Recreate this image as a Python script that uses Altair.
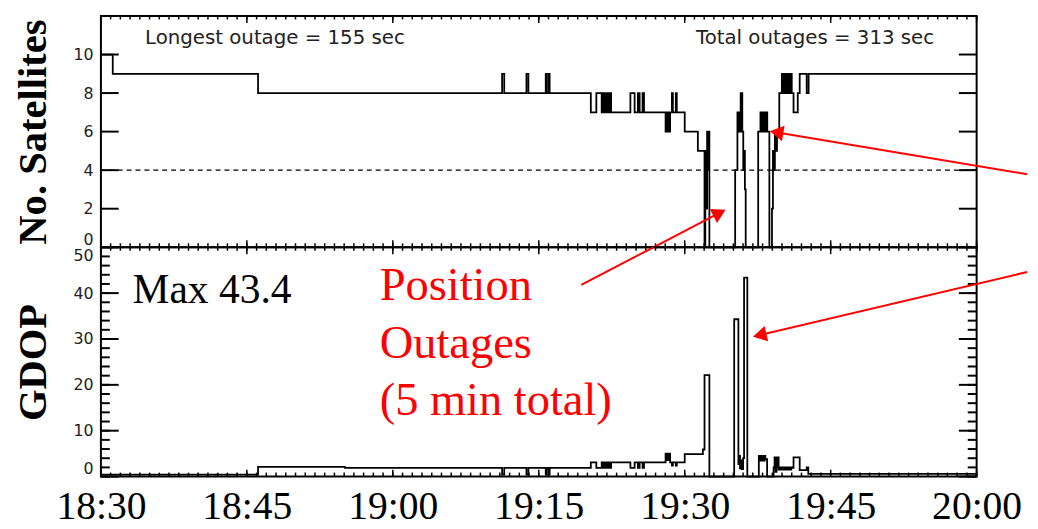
import altair as alt
import pandas as pd

# ---------------- data ----------------
# (clock time, number of satellites) - value holds until next time
sat_steps = [
    ("18:30:00", 10), ("18:31:13", 9), ("18:46:09", 8),
    ("19:11:14", 9), ("19:11:27", 8), ("19:13:44", 9), ("19:13:56", 8),
    ("19:15:43", 9), ("19:15:49", 8), ("19:16:01", 9), ("19:16:07", 8),
    ("19:20:21", 7), ("19:20:55", 8), ("19:21:28", 7), ("19:21:34", 8),
    ("19:21:40", 7), ("19:21:46", 8), ("19:21:52", 7), ("19:21:58", 8),
    ("19:22:04", 7), ("19:22:10", 8), ("19:22:16", 7), ("19:22:22", 8),
    ("19:22:26", 7), ("19:24:25", 8), ("19:24:51", 7), ("19:25:11", 8),
    ("19:25:22", 7), ("19:25:40", 8), ("19:25:49", 7), ("19:28:02", 6),
    ("19:28:08", 7), ("19:28:14", 6), ("19:28:20", 7), ("19:28:26", 6),
    ("19:28:30", 7), ("19:28:41", 8), ("19:28:47", 7), ("19:29:05", 8),
    ("19:29:11", 7), ("19:30:00", 6), ("19:31:21", 5), ("19:32:02", 0),
    ("19:32:07", 5), ("19:32:13", 2), ("19:32:18", 6), ("19:32:24", 4),
    ("19:32:28", 6), ("19:32:32", 0), ("19:35:11", 4), ("19:35:25", 7),
    ("19:35:31", 6), ("19:35:37", 7), ("19:35:41", 6), ("19:35:45", 8),
    ("19:35:55", 6), ("19:36:01", 4), ("19:36:06", 5), ("19:36:11", 3),
    ("19:36:16", 0), ("19:37:33", 6), ("19:37:47", 7), ("19:37:53", 6),
    ("19:37:59", 7), ("19:38:05", 6), ("19:38:11", 7), ("19:38:17", 6),
    ("19:38:23", 7), ("19:38:29", 6), ("19:38:42", 0), ("19:38:58", 2),
    ("19:39:04", 5), ("19:39:10", 4), ("19:39:16", 6), ("19:39:22", 5),
    ("19:39:29", 6), ("19:39:43", 8), ("19:39:59", 9), ("19:40:05", 8),
    ("19:40:11", 9), ("19:40:17", 8), ("19:40:23", 9), ("19:40:29", 8),
    ("19:40:35", 9), ("19:40:41", 8), ("19:40:47", 9), ("19:40:53", 8),
    ("19:40:57", 9), ("19:41:00", 8), ("19:41:11", 7), ("19:41:37", 8),
    ("19:41:49", 9), ("19:42:32", 8), ("19:42:44", 9), ("20:00:00", 9),
]

# (clock time, GDOP) - value holds until next time
gdop_steps = [
    ("18:30:00", 0.4), ("18:46:09", 2.1), ("18:55:05", 1.9),
    ("19:11:14", 0.4), ("19:11:27", 1.9), ("19:13:44", 0.4), ("19:13:56", 1.9),
    ("19:15:43", 0.4), ("19:15:49", 1.9), ("19:16:01", 0.4), ("19:16:07", 1.9),
    ("19:20:21", 3.1), ("19:20:55", 1.9), ("19:21:28", 3.1), ("19:21:34", 1.9),
    ("19:21:40", 3.1), ("19:21:46", 1.9), ("19:21:52", 3.1), ("19:21:58", 1.9),
    ("19:22:04", 3.1), ("19:22:10", 1.9), ("19:22:16", 3.1), ("19:22:22", 1.9),
    ("19:22:26", 3.1), ("19:24:25", 1.9), ("19:24:51", 3.1), ("19:25:11", 1.9),
    ("19:25:22", 3.1), ("19:25:40", 1.9), ("19:25:49", 3.1), ("19:28:02", 5.0),
    ("19:28:08", 3.6), ("19:28:14", 5.0), ("19:28:20", 3.6), ("19:28:26", 5.0),
    ("19:28:30", 3.1), ("19:28:41", 2.4), ("19:28:47", 3.1), ("19:29:05", 2.4),
    ("19:29:11", 3.1), ("19:30:00", 4.9), ("19:31:52", 5.9), ("19:32:02", 22.1),
    ("19:32:32", 0.0), ("19:35:05", 34.3), ("19:35:31", 2.7), ("19:35:35", 4.5),
    ("19:35:41", 1.8), ("19:35:45", 3.5), ("19:35:51", 1.6), ("19:36:00", 4.0),
    ("19:36:06", 43.4), ("19:36:26", 0.0), ("19:37:37", 4.5), ("19:37:43", 3.5),
    ("19:37:49", 4.5), ("19:37:55", 3.5), ("19:38:01", 4.5), ("19:38:07", 3.5),
    ("19:38:13", 4.5), ("19:38:17", 3.8), ("19:38:28", 0.0), ("19:39:08", 2.0),
    ("19:39:14", 4.2), ("19:39:20", 1.0), ("19:39:26", 4.2), ("19:39:32", 2.0),
    ("19:39:36", 4.2), ("19:39:39", 1.5), ("19:39:45", 2.0), ("19:39:51", 1.5),
    ("19:39:57", 2.0), ("19:40:03", 1.5), ("19:40:09", 2.0), ("19:40:15", 1.5),
    ("19:40:21", 2.0), ("19:40:27", 1.5), ("19:40:33", 2.0), ("19:40:39", 1.5),
    ("19:40:45", 2.0), ("19:40:51", 1.5), ("19:40:57", 2.0), ("19:41:00", 1.9),
    ("19:41:11", 4.2), ("19:41:49", 1.4), ("19:42:32", 2.0), ("19:42:42", 0.6),
    ("20:00:00", 0.6),
]

x_tick_labels = ["18:30", "18:45", "19:00", "19:15", "19:30", "19:45", "20:00"]
sat_tick_values = [0, 2, 4, 6, 8, 10]
gdop_major_values = [0, 10, 20, 30, 40, 50]
gdop_minor_values = list(range(0, 51, 2))
sat_threshold = [4]

top_notes = ["Longest outage = 155 sec", "Total outages = 313 sec"]
top_note_times = ["18:34:32", "19:55:38"]
top_note_level = 10.56
max_note = "Max 43.4"
max_note_time = "18:33:15"
max_note_level = 37.9
red_note = "Position\nOutages\n(5 min total)"
red_note_time = "18:58:39"
red_note_level = 38.4

# arrow shafts: (time, value) -> (time, value), per panel
shaft_top = [
    ("19:26:47", 0.0, "19:33:22", 1.73),
    ("20:05:11", 3.79, "19:39:40", 5.94),
]
shaft_bottom = [
    ("19:19:22", 41.8, "19:26:47", 50.0),
    ("20:05:11", 44.6, "19:37:56", 30.95),
]
# arrow heads: (time, value, angle in degrees)
head_top = [("19:33:22", 1.73, 62.5), ("19:39:40", 5.94, 279.4)]
head_bottom = [("19:37:56", 30.95, 256.7)]


def clock(s):
    p = [int(v) for v in s.split(":")]
    return p[0] * 60 + p[1] + (p[2] if len(p) > 2 else 0) / 60.0


sat_df = pd.DataFrame({"t": [clock(a) for a, _ in sat_steps],
                       "n": [b for _, b in sat_steps]})
gdop_df = pd.DataFrame({"t": [clock(a) for a, _ in gdop_steps],
                        "g": [b for _, b in gdop_steps]})

major_times = [clock(s) for s in x_tick_labels]
minute_times = list(range(int(major_times[0]), int(major_times[-1]) + 1))

W, H_TOP, H_BOT = 886, 234, 232
xs = alt.Scale(domain=[major_times[0], major_times[-1]], nice=False, zero=False)
ys_top = alt.Scale(domain=[0, 12], nice=False, zero=False)
ys_bot = alt.Scale(domain=[0, 50], nice=False, zero=False)

SERIF = "Liberation Serif"
SANS = "DejaVu Sans"

label_expr = ("floor(datum.value / 60) + ':' + (datum.value % 60 < 10 ? '0' : '')"
              " + (datum.value % 60)")
X_AXIS_BOTTOM = alt.Axis(
    values=major_times, labelExpr=label_expr, labelFont=SERIF,
    labelFontSize=40, labelColor="black", labelPadding=10,
    labelFlush=False, labelOverlap=False, ticks=False, tickSize=0,
    domain=False, grid=False, title=None)
Y_AXIS_TOP = alt.Axis(
    title="No. Satellites", titleFont=SERIF, titleFontSize=41,
    titleFontWeight="bold", titleColor="black", titlePadding=19,
    values=sat_tick_values, labelFont=SANS, labelFontSize=16,
    labelColor="#222", labelPadding=8, labelFlush=True,
    ticks=False, tickSize=0, domain=False, grid=False)
Y_AXIS_BOTTOM = alt.Axis(
    title="GDOP", titleFont=SERIF, titleFontSize=41,
    titleFontWeight="bold", titleColor="black", titlePadding=19,
    values=gdop_major_values, labelFont=SANS, labelFontSize=16,
    labelColor="#222", labelPadding=8, labelFlush=True,
    ticks=False, tickSize=0, domain=False, grid=False)


class Panel:
    def __init__(self, xaxis, yscale, yaxis, height):
        self.xaxis, self.yscale, self.yaxis, self.height = xaxis, yscale, yaxis, height

    def X(self, f):
        return alt.X(f, scale=xs, axis=self.xaxis)

    def Y(self, f):
        return alt.Y(f, scale=self.yscale, axis=self.yaxis)

    def xticks(self, values, y0, y1, width=1.5):
        return alt.Chart(pd.DataFrame({"t": values})).mark_rule(
            color="black", strokeWidth=width).encode(
            x=self.X("t:Q"), y=alt.value(y0), y2=alt.value(y1))

    def yticks(self, values, x0, x1, width=2):
        return alt.Chart(pd.DataFrame({"v": values})).mark_rule(
            color="black", strokeWidth=width).encode(
            y=self.Y("v:Q"), x=alt.value(x0), x2=alt.value(x1))

    def frame_ticks(self, y_major, y_minor=None):
        h = self.height
        layers = [self.xticks(minute_times, 0, 3.5), self.xticks(major_times, 0, 7),
                  self.xticks(minute_times, h, h - 4), self.xticks(major_times, h, h - 7)]
        if y_minor is not None:
            layers += [self.yticks(y_minor, 0, 9), self.yticks(y_minor, W, W - 9)]
        layers += [self.yticks(y_major, 0, 18), self.yticks(y_major, W, W - 18)]
        return layers

    def text(self, t, v, label, align, font, size, color, **kw):
        df = pd.DataFrame({"t": [clock(t)], "v": [v], "label": [label]})
        return alt.Chart(df).mark_text(
            align=align, baseline="alphabetic", font=font, fontSize=size,
            color=color, **kw).encode(x=self.X("t:Q"), y=self.Y("v:Q"), text="label:N")

    def arrows(self, shafts, heads):
        sdf = pd.DataFrame({
            "t": [clock(a[0]) for a in shafts], "v": [a[1] for a in shafts],
            "t2": [clock(a[2]) for a in shafts], "v2": [a[3] for a in shafts]})
        hdf = pd.DataFrame({"t": [clock(h[0]) for h in heads], "v": [h[1] for h in heads],
                            "ang": [h[2] for h in heads]})
        line = alt.Chart(sdf).mark_rule(color="#ff0000", strokeWidth=2, clip=False).encode(
            x=self.X("t:Q"), y=self.Y("v:Q"), x2="t2:Q", y2="v2:Q")
        head = alt.Chart(hdf).mark_point(shape="triangle", filled=True, size=256,
                                         color="#ff0000", opacity=1, clip=False).encode(
            x=self.X("t:Q"), y=self.Y("v:Q"), angle=alt.Angle("ang:Q", scale=None))
        return [line, head]


# ---------------- top panel: number of satellites ----------------
P1 = Panel(None, ys_top, Y_AXIS_TOP, H_TOP)
sat_line = alt.Chart(sat_df).mark_line(
    interpolate="step-after", color="black", strokeWidth=1.8).encode(
    x=P1.X("t:Q"), y=P1.Y("n:Q"))
threshold = alt.Chart(pd.DataFrame({"v": sat_threshold})).mark_rule(
    color="black", strokeWidth=1.3, strokeDash=[5, 4]).encode(y=P1.Y("v:Q"))

top = alt.layer(
    sat_line, threshold,
    *P1.frame_ticks(sat_tick_values),
    P1.text(top_note_times[0], top_note_level, top_notes[0], "left", SANS, 20, "#222"),
    P1.text(top_note_times[1], top_note_level, top_notes[1], "right", SANS, 20, "#222"),
    *P1.arrows(shaft_top, head_top),
).properties(width=W, height=H_TOP)

# ---------------- bottom panel: GDOP ----------------
P2 = Panel(X_AXIS_BOTTOM, ys_bot, Y_AXIS_BOTTOM, H_BOT)
gdop_line = alt.Chart(gdop_df).mark_line(
    interpolate="step-after", color="black", strokeWidth=1.8).encode(
    x=P2.X("t:Q"), y=P2.Y("g:Q"))

bottom = alt.layer(
    gdop_line,
    *P2.frame_ticks(gdop_major_values, gdop_minor_values),
    P2.text(max_note_time, max_note_level, max_note, "left", SERIF, 42, "black"),
    P2.text(red_note_time, red_note_level, red_note, "left", SERIF, 47, "#ff0000",
            lineBreak="\n", lineHeight=58),
    *P2.arrows(shaft_bottom, head_bottom),
).properties(width=W, height=H_BOT)

chart = alt.vconcat(top, bottom, spacing=0, bounds="flush").properties(
    padding={"left": 3, "top": 3, "right": 0, "bottom": 0},
    background="white",
).configure_view(stroke="black", strokeWidth=2)

chart.save("out.html", embed_options={"renderer": "svg", "actions": False})
